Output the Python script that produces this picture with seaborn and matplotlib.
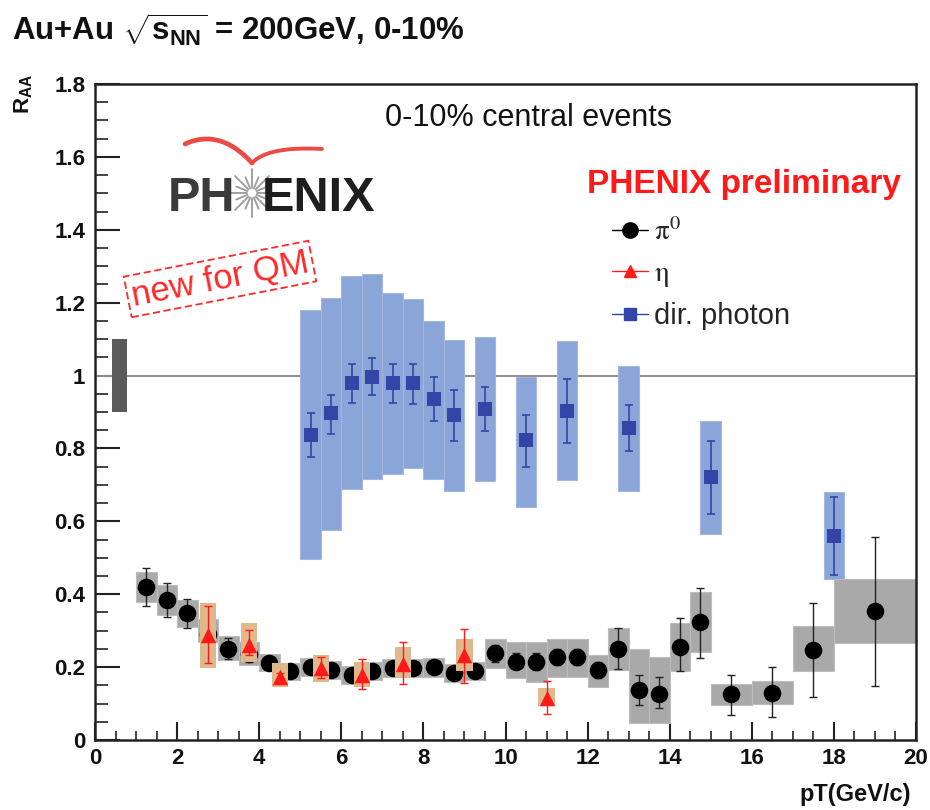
import numpy as np
import pandas as pd
import matplotlib
matplotlib.use("Agg")
import matplotlib.pyplot as plt
import seaborn as sns
from matplotlib.ticker import MultipleLocator, FuncFormatter
from matplotlib.lines import Line2D
from matplotlib.font_manager import FontProperties

# ---------------- data ----------------
# pi0 R_AA, 0-10% central Au+Au
pi0_pt = [1.25, 1.75, 2.25, 2.75, 3.25, 3.75, 4.25, 4.75, 5.25, 5.75, 6.25, 6.75,
          7.25, 7.75, 8.25, 8.75, 9.25, 9.75, 10.25, 10.75, 11.25, 11.75, 12.25,
          12.75, 13.25, 13.75, 14.25, 14.75, 15.5, 16.5, 17.5, 19.0]
pi0_raa = [0.421, 0.385, 0.349, 0.290, 0.251, 0.237, 0.212, 0.188, 0.201, 0.192,
           0.179, 0.188, 0.197, 0.197, 0.199, 0.183, 0.190, 0.238, 0.215, 0.215,
           0.227, 0.227, 0.192, 0.251, 0.137, 0.126, 0.256, 0.325, 0.126, 0.130,
           0.247, 0.354]
pi0_stat_lo = [0.367, 0.338, 0.307, 0.262, 0.222, 0.215, 0.197, 0.175, 0.188, 0.180,
               0.167, 0.176, 0.185, 0.185, 0.187, 0.171, 0.178, 0.215, 0.195, 0.192,
               0.205, 0.205, 0.170, 0.195, 0.096, 0.088, 0.188, 0.224, 0.069, 0.063,
               0.119, 0.148]
pi0_stat_hi = [0.473, 0.432, 0.388, 0.318, 0.280, 0.259, 0.227, 0.201, 0.214, 0.204,
               0.191, 0.200, 0.209, 0.209, 0.211, 0.195, 0.202, 0.261, 0.240, 0.240,
               0.250, 0.250, 0.214, 0.306, 0.179, 0.172, 0.334, 0.418, 0.179, 0.199,
               0.376, 0.557]
pi0_sys_lo = [0.379, 0.343, 0.309, 0.269, 0.220, 0.206, 0.188, 0.165, 0.176, 0.168,
              0.155, 0.164, 0.172, 0.172, 0.174, 0.158, 0.165, 0.197, 0.170, 0.160,
              0.172, 0.174, 0.146, 0.192, 0.047, 0.047, 0.188, 0.242, 0.096, 0.099,
              0.188, 0.265]
pi0_sys_hi = [0.460, 0.425, 0.384, 0.333, 0.284, 0.269, 0.235, 0.212, 0.226, 0.217,
              0.204, 0.213, 0.222, 0.222, 0.224, 0.208, 0.215, 0.276, 0.269, 0.269,
              0.277, 0.277, 0.233, 0.307, 0.251, 0.229, 0.322, 0.407, 0.155, 0.162,
              0.313, 0.441]
pi0_bin = [0.5] * 28 + [1.0, 1.0, 1.0, 2.0]

# eta R_AA
eta_pt = [2.75, 3.75, 4.5, 5.5, 6.5, 7.5, 9.0, 11.0]
eta_raa = [0.288, 0.260, 0.174, 0.197, 0.179, 0.209, 0.233, 0.114]
eta_stat_lo = [0.210, 0.233, 0.163, 0.171, 0.139, 0.154, 0.157, 0.071]
eta_stat_hi = [0.367, 0.302, 0.185, 0.228, 0.222, 0.269, 0.304, 0.162]
eta_sys_lo = [0.197, 0.215, 0.146, 0.160, 0.146, 0.172, 0.190, 0.094]
eta_sys_hi = [0.376, 0.320, 0.210, 0.233, 0.215, 0.256, 0.276, 0.144]
eta_bin = [0.4] * 8

# direct photon R_AA
gam_pt = [5.25, 5.75, 6.25, 6.75, 7.25, 7.75, 8.25, 8.75, 9.5, 10.5, 11.5, 13.0, 15.0, 18.0]
gam_raa = [0.836, 0.896, 0.979, 0.997, 0.979, 0.979, 0.937, 0.892, 0.908, 0.823,
           0.903, 0.855, 0.722, 0.560]
gam_stat_lo = [0.777, 0.841, 0.925, 0.946, 0.925, 0.921, 0.875, 0.820, 0.847, 0.748,
               0.815, 0.793, 0.619, 0.453]
gam_stat_hi = [0.898, 0.948, 1.033, 1.047, 1.033, 1.033, 0.997, 0.960, 0.968, 0.892,
               0.990, 0.919, 0.820, 0.666]
gam_sys_lo = [0.498, 0.576, 0.688, 0.717, 0.731, 0.746, 0.717, 0.684, 0.710, 0.640,
              0.713, 0.684, 0.565, 0.443]
gam_sys_hi = [1.179, 1.214, 1.273, 1.280, 1.227, 1.211, 1.149, 1.098, 1.107, 0.997,
              1.095, 1.026, 0.876, 0.680]
gam_bin = [0.5] * 14

# overall normalisation uncertainty drawn at R_AA = 1
norm_pt = [0.6]
norm_lo = [0.90]
norm_hi = [1.10]
norm_bin = [0.37]

x_ticks = [0, 2, 4, 6, 8, 10, 12, 14, 16, 18, 20]
y_ticks = [0, 0.2, 0.4, 0.6, 0.8, 1.0, 1.2, 1.4, 1.6, 1.8]

# ---------------- style ----------------
sns.set_theme(style="ticks")
plt.rcParams["font.family"] = ["Liberation Sans", "DejaVu Sans"]
plt.rcParams.update({
    "mathtext.fontset": "custom",
    "mathtext.rm": "Liberation Sans:bold",
    "mathtext.it": "Liberation Sans:bold",
    "mathtext.bf": "Liberation Sans:bold",
})

C_PI0_BOX = "#a9a9a9"
C_ETA_BOX = "#dfb98b"
C_GAM_BOX = "#8aa5d7"
C_GAM = "#3346a8"
C_ETA = "#ff1a1a"

W, H = 930, 810
fig = plt.figure(figsize=(W / 100, H / 100), dpi=100)


def fx(px):
    return px / W


def fy(py):
    return 1 - py / H


ax = fig.add_axes([fx(95), fy(740), (916 - 95) / W, (740 - 84) / H])
ax.set_xlim(0, 20)
ax.set_ylim(0, 1.8)

pi0 = pd.DataFrame({"pt": pi0_pt, "raa": pi0_raa, "slo": pi0_stat_lo, "shi": pi0_stat_hi,
                    "ylo": pi0_sys_lo, "yhi": pi0_sys_hi, "w": pi0_bin})
eta = pd.DataFrame({"pt": eta_pt, "raa": eta_raa, "slo": eta_stat_lo, "shi": eta_stat_hi,
                    "ylo": eta_sys_lo, "yhi": eta_sys_hi, "w": eta_bin})
gam = pd.DataFrame({"pt": gam_pt, "raa": gam_raa, "slo": gam_stat_lo, "shi": gam_stat_hi,
                    "ylo": gam_sys_lo, "yhi": gam_sys_hi, "w": gam_bin})

# reference line and normalisation box
ax.axhline(1.0, color="#8e8e8e", lw=1.4, zorder=1)
ax.bar(norm_pt, np.subtract(norm_hi, norm_lo), bottom=norm_lo, width=norm_bin,
       color="#5a5a5a", edgecolor="none", zorder=2)

# systematic boxes
ax.bar(gam["pt"], gam["yhi"] - gam["ylo"], bottom=gam["ylo"], width=gam["w"],
       color=C_GAM_BOX, edgecolor="#a3b7e0", lw=0.8, zorder=2)
ax.bar(pi0["pt"], pi0["yhi"] - pi0["ylo"], bottom=pi0["ylo"], width=pi0["w"],
       color=C_PI0_BOX, edgecolor="#bdbdbd", lw=0.8, zorder=2)

# pi0: statistical errors and markers
ax.errorbar(pi0["pt"], pi0["raa"], yerr=[pi0["raa"] - pi0["slo"], pi0["shi"] - pi0["raa"]],
            fmt="none", ecolor="#222222", elinewidth=1.0, capsize=3, capthick=1.0, zorder=3)
sns.scatterplot(data=pi0, x="pt", y="raa", ax=ax, marker="o", s=160, color="black",
                linewidth=0, zorder=4, legend=False)

# eta: boxes drawn on top of the pi0 points
ax.bar(eta["pt"], eta["yhi"] - eta["ylo"], bottom=eta["ylo"], width=eta["w"],
       color=C_ETA_BOX, edgecolor="none", zorder=5)
ax.errorbar(eta["pt"], eta["raa"], yerr=[eta["raa"] - eta["slo"], eta["shi"] - eta["raa"]],
            fmt="none", ecolor=C_ETA, elinewidth=1.0, capsize=3, capthick=1.0, zorder=6)
sns.scatterplot(data=eta, x="pt", y="raa", ax=ax, marker="^", s=125, color=C_ETA,
                linewidth=0, zorder=7, legend=False)

# direct photons
ax.errorbar(gam["pt"], gam["raa"], yerr=[gam["raa"] - gam["slo"], gam["shi"] - gam["raa"]],
            fmt="none", ecolor=C_GAM, elinewidth=1.2, capsize=3, capthick=1.2, zorder=6)
sns.scatterplot(data=gam, x="pt", y="raa", ax=ax, marker="s", s=100, color=C_GAM,
                linewidth=0, zorder=7, legend=False)

# ---------------- axes ----------------
ax.set_xlabel("")
ax.set_ylabel("")
ax.set_xticks(x_ticks)
ax.set_yticks(y_ticks)
ax.xaxis.set_minor_locator(MultipleLocator(0.5))
ax.yaxis.set_minor_locator(MultipleLocator(0.05))
ax.yaxis.set_major_formatter(FuncFormatter(lambda v, p: f"{v:g}"))
ax.xaxis.set_major_formatter(FuncFormatter(lambda v, p: f"{v:g}"))
ax.tick_params(axis="x", which="major", direction="in", length=13, width=1.5,
               color="#222222", pad=6, labelsize=16)
ax.tick_params(axis="x", which="minor", direction="in", length=6.5, width=1.2, color="#222222")
ax.tick_params(axis="y", which="major", direction="in", length=18, width=1.5,
               color="#222222", pad=7, labelsize=16)
ax.tick_params(axis="y", which="minor", direction="in", length=9, width=1.2, color="#222222")
ax.tick_params(top=False, right=False, which="both")
for lab in ax.get_xticklabels() + ax.get_yticklabels():
    lab.set_fontweight("bold")
    lab.set_color("#111111")
for s in ax.spines.values():
    s.set_linewidth(1.8)
    s.set_color("#222222")
    s.set_visible(True)

# axis titles
fig.text(fx(24), fy(94), r"$R_{AA}$", rotation=90, ha="center", va="center",
         fontsize=16, color="#111111")
fig.text(fx(911), fy(795), "pT(GeV/c)", ha="right", va="center", fontsize=17,
         fontweight="bold", color="#111111")

# header
fig.text(fx(12), fy(30), r"Au+Au $\sqrt{s_{NN}}$ = 200GeV, 0-10%", ha="left", va="center",
         fontsize=22.5, fontweight="bold", color="#111111")

# annotations inside the frame
fig.text(fx(528), fy(118), "0-10% central events", ha="center", va="center",
         fontsize=22, color="#111111")
fig.text(fx(587), fy(184), "PHENIX preliminary", ha="left", va="center",
         fontsize=24, fontweight="bold", color="#ff1a1a")
fig.text(fx(220), fy(279), "new for QM", ha="center", va="center", rotation=11,
         rotation_mode="anchor", fontsize=25, color="#ff2a2a",
         bbox=dict(boxstyle="square,pad=0.12", fc="white", ec="#ff2a2a", lw=1.3, ls=(0, (4, 2))))

# PHENIX logo
fig.text(fx(168), fy(211), "PH", ha="left", va="baseline", fontsize=35,
         fontweight="bold", color="#3b3b3b")
fig.text(fx(262), fy(211), "ENIX", ha="left", va="baseline", fontsize=35,
         fontweight="bold", color="#1e1e1e")
cx, cy = 252, 193
for k in range(16):
    a = np.pi * k / 8
    r1 = 24 if k % 2 == 0 else 17
    xs = [cx + 5 * np.cos(a), cx + r1 * np.cos(a)]
    ys = [cy + 5 * np.sin(a), cy + r1 * np.sin(a)]
    fig.add_artist(Line2D([fx(v) for v in xs], [fy(v) for v in ys], color="#a0a0a0",
                          lw=1.4, transform=fig.transFigure))


def bezier(p0, p1, p2, n=40):
    t = np.linspace(0, 1, n)[:, None]
    return (1 - t) ** 2 * np.array(p0) + 2 * (1 - t) * t * np.array(p1) + t ** 2 * np.array(p2)


for p0, p1, p2, lw in [((185, 144), (220, 128), (252, 163), 3.4),
                       ((252, 163), (268, 146), (322, 149), 2.8)]:
    pts = bezier(p0, p1, p2)
    fig.add_artist(Line2D([fx(v) for v in pts[:, 0]], [fy(v) for v in pts[:, 1]],
                          color="#ec4a44", lw=lw, solid_capstyle="round",
                          transform=fig.transFigure))

# legend
handles = [
    Line2D([], [], color="black", lw=1, marker="o", markersize=11),
    Line2D([], [], color=C_ETA, lw=1, marker="^", markersize=9),
    Line2D([], [], color=C_GAM, lw=1, marker="s", markersize=8),
]
labels = [r"$\mathrm{\pi}^{0}$", r"$\mathrm{\eta}$", "dir. photon"]
leg = ax.legend(handles, labels, loc="upper left", bbox_to_anchor=(fx(612), fy(218)),
                bbox_transform=fig.transFigure, frameon=False,
                prop=FontProperties(family="Liberation Sans", size=21, math_fontfamily="stix"),
                handlelength=1.25, handletextpad=0.2, labelspacing=0.45,
                borderpad=0, borderaxespad=0)

fig.savefig("out.png", dpi=100, facecolor="white")
